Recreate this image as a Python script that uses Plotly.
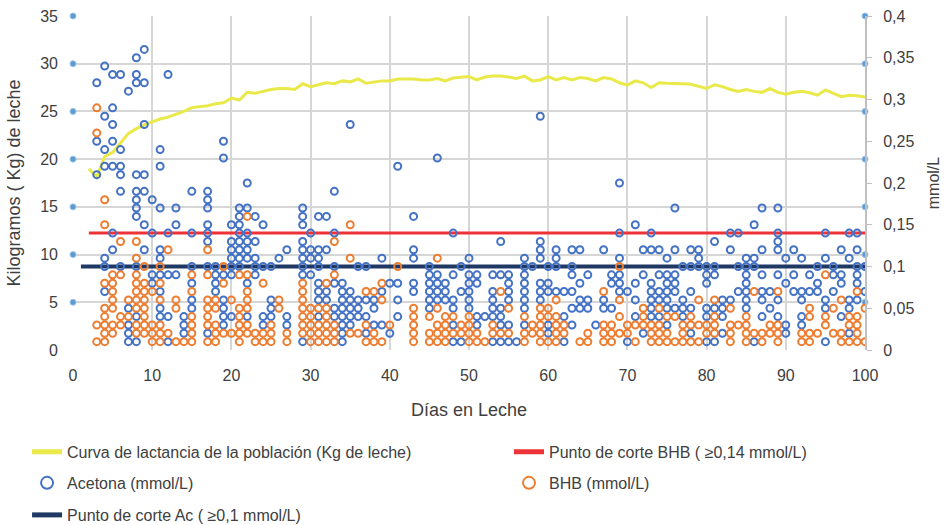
import plotly.graph_objects as go

# Curva de lactancia de la población: kg de leche por día en leche (días 2-100)
dias_curva = list(range(2, 101))
kg_leche = [
    19.0, 18.1, 20.3, 20.7, 21.7, 22.7, 23.2, 23.6, 23.9, 24.2,
    24.4, 24.7, 25.0, 25.4, 25.5, 25.6, 25.8, 25.9, 26.4, 26.2,
    27.0, 26.9, 27.1, 27.3, 27.4, 27.4, 27.3, 27.9, 27.6, 27.8,
    28.0, 27.9, 28.2, 28.1, 28.4, 27.95, 28.1, 28.2, 28.2, 28.4,
    28.4, 28.4, 28.3, 28.3, 28.45, 28.2, 28.5, 28.6, 28.65, 28.3,
    28.6, 28.7, 28.7, 28.6, 28.45, 28.7, 28.2, 28.3, 28.65, 28.3,
    28.55, 28.3, 28.55, 28.45, 28.2, 28.55, 28.4, 28.0, 27.75, 28.2,
    28.0, 27.5, 28.0, 27.95, 27.95, 27.9, 27.85, 27.6, 27.4, 27.8,
    27.6, 27.3, 27.1, 27.3, 27.1, 27.0, 27.4, 27.0, 26.8, 27.0,
    27.1, 26.95, 26.7, 27.25, 26.9, 26.55, 26.7, 26.65, 26.5,
]

# Acetona por día en leche, en centésimas de mmol/L
acetona_cmmol = {
    3: [21, 25, 32], 4: [7, 10, 11, 22, 24, 28, 34], 5: [12, 14, 22, 25, 27, 29, 33],
    6: [10, 19, 21, 22, 24, 33], 7: [1, 2, 3, 5, 31],
    8: [1, 4, 10, 16, 17, 18, 19, 21, 32, 33, 35], 9: [12, 15, 19, 21, 27, 32, 36],
    10: [8, 9, 14, 18], 11: [4, 5, 7, 9, 11, 12, 17, 22, 24], 12: [1, 4, 9, 14, 33],
    13: [9, 15, 17], 14: [2, 3, 4], 15: [5, 6, 8, 10, 14, 19],
    17: [2, 10, 13, 14, 15, 17, 18, 19], 18: [7, 8, 9, 10], 19: [3, 4, 5, 6, 9, 23, 25],
    20: [4, 9, 10, 11, 12, 13, 15], 21: [10, 11, 12, 13, 14, 15, 16, 17],
    22: [4, 8, 11, 12, 13, 14, 17, 20], 23: [9, 10, 11, 13, 16], 24: [3, 4, 10, 15],
    25: [4, 5, 6, 10], 26: [11], 27: [3, 4, 12], 29: [1, 9, 10, 11, 12, 13, 15, 16, 17],
    30: [9, 11, 12, 14], 31: [4, 6, 7, 8, 10, 11, 12, 16], 32: [6, 7, 12, 16],
    33: [4, 5, 8, 10, 14, 19], 34: [1, 2, 3, 4, 5, 6, 7, 8], 35: [3, 4, 5, 6, 7, 27],
    36: [4, 5, 6, 10], 37: [2, 4, 6, 10], 38: [3, 5, 6], 39: [3, 7, 11], 40: [2, 8],
    41: [4, 6, 8, 22], 43: [7, 8, 11, 12, 16], 45: [5, 6, 7, 8, 9, 10],
    46: [6, 7, 8, 9, 23], 47: [6, 7, 8], 48: [1, 3, 5, 6, 9, 14], 49: [1, 7, 10],
    50: [5, 6, 7, 8, 9, 11], 51: [3, 4, 8, 9], 52: [4], 53: [1, 4, 5, 6, 7, 9],
    54: [1, 3, 4, 5, 9, 13], 55: [1, 3, 6, 7, 8, 9], 56: [1],
    57: [3, 5, 6, 7, 8, 9, 10, 11], 58: [10], 59: [6, 7, 8, 11, 12, 13, 28],
    60: [2, 3, 7, 8, 10], 61: [7, 10, 11, 12], 62: [1, 4, 7], 63: [3, 5, 7, 9, 10, 12],
    64: [5, 6, 8, 12], 65: [5, 6, 9], 66: [3], 67: [5, 6, 12], 68: [5, 8, 9],
    69: [7, 8, 9, 11, 14, 20], 70: [1, 7], 71: [4, 6, 8, 15], 72: [2, 9, 12],
    73: [4, 5, 6, 7, 8, 12, 14], 74: [4, 6, 7, 9, 12], 75: [3, 5, 6, 7, 8, 9, 11],
    76: [5, 7, 8, 9, 12, 17], 77: [4, 5, 6, 10], 78: [2, 5, 7, 10, 12], 79: [10, 11, 12],
    80: [1, 4, 5, 8, 9, 10], 81: [1, 5, 9, 10, 13], 82: [2, 4, 5, 6], 83: [6, 12, 14],
    84: [7, 10, 14], 85: [5, 6, 7, 8, 9, 10, 11], 86: [1, 10, 11, 15],
    87: [4, 6, 7, 9, 12, 17], 88: [5, 7], 89: [4, 6, 9, 12, 13, 14, 17],
    90: [2, 3, 8, 11], 91: [7, 9, 12], 92: [3, 4, 6, 7, 11], 93: [7, 9], 94: [7, 8, 10],
    95: [1, 5, 6, 11, 14], 96: [7, 9, 10], 97: [4, 8, 9, 12], 98: [2, 5, 6, 11, 14],
    99: [6, 8, 9, 10, 12, 14], 100: [7, 10],
}

# BHB por día en leche, en centésimas de mmol/L
bhb_cmmol = {
    3: [1, 3, 26, 29], 4: [1, 2, 3, 4, 5, 8, 15, 18], 5: [2, 3, 5, 6, 7, 8, 9],
    6: [3, 4, 9, 13], 7: [4, 6], 8: [2, 3, 5, 6, 7, 8, 9, 11, 13],
    9: [2, 3, 4, 5, 6, 7, 8, 10], 10: [1, 2, 3, 7], 11: [1, 2, 3, 6, 8, 10], 12: [2, 12],
    13: [1, 5, 6], 14: [1], 15: [1, 2, 3, 4, 7, 9], 17: [1, 3, 4, 5, 6, 9, 12],
    18: [1, 2, 3, 5, 6], 19: [2, 8, 10], 20: [2, 6], 21: [1, 2, 3, 4, 5, 9],
    22: [2, 3, 5, 6, 7, 9, 16], 23: [1, 2], 24: [1, 2, 8], 25: [1, 2, 3], 26: [5, 6],
    27: [1, 2], 29: [2, 3, 4, 5, 6, 7, 8], 30: [1, 2, 3, 4, 5], 31: [1, 2, 3, 5],
    32: [1, 2, 3, 4, 5, 8], 33: [1, 2, 3, 9, 13], 35: [2, 11, 15], 36: [2], 37: [1, 3, 7],
    38: [1, 2, 7], 39: [1, 6, 8], 40: [3], 41: [10], 43: [1, 2, 3, 4, 5], 45: [1, 2, 4],
    46: [1, 2, 3, 5, 11], 47: [1, 2, 3, 4], 48: [2, 4], 49: [2, 3], 50: [1, 2, 3, 4],
    51: [1, 2], 52: [1], 53: [2, 3], 54: [2, 7], 55: [2, 5], 57: [1, 2, 4], 58: [2, 3],
    59: [1, 2, 3, 4, 5], 60: [1, 4, 5], 61: [1, 2, 3, 4, 6], 62: [2, 3], 64: [1],
    65: [1, 2], 67: [1, 2, 3, 7], 68: [1, 2, 3], 69: [2, 4, 6, 10], 70: [2, 3], 71: [1, 3],
    72: [3, 4, 5], 73: [1, 2, 3], 74: [1, 2, 3, 5], 75: [1, 2, 4], 76: [1, 4],
    77: [1, 2, 3], 78: [1, 3, 4], 79: [1, 3, 6], 80: [2, 3], 81: [2, 3, 4, 6],
    83: [1, 2, 3, 5], 84: [3], 85: [1, 2, 3, 4], 86: [2, 7], 87: [1, 2], 88: [2, 3],
    89: [1, 2, 3, 7], 92: [1, 2], 93: [1, 2, 4, 5], 94: [2], 95: [3, 4, 9], 96: [2, 5],
    97: [1, 2, 6], 98: [1, 3, 4], 99: [1, 2, 3, 4, 7], 100: [1, 5],
}

# Puntos de corte (mmol/L) y días que abarcan
corte_bhb = 0.14
corte_bhb_dias = [2, 100]
corte_ac = 0.1
corte_ac_dias = [1, 100]

# Marcas de referencia sobre los ejes (kg de leche)
marcas_kg = [5, 10, 15, 20, 25, 30, 35]

ticks_mmol = [0, 0.05, 0.1, 0.15, 0.2, 0.25, 0.3, 0.35, 0.4]
ticks_mmol_txt = ["0", "0,05", "0,1", "0,15", "0,2", "0,25", "0,3", "0,35", "0,4"]


def aplanar(tabla):
    xs, ys = [], []
    for dia, valores in tabla.items():
        for v in valores:
            xs.append(dia)
            ys.append(v / 100)
    return xs, ys


ac_x, ac_y = aplanar(acetona_cmmol)
bhb_x, bhb_y = aplanar(bhb_cmmol)

AZUL = "#4472C4"
NARANJA = "#ED7D31"
AMARILLO = "#E9E94A"
ROJO = "#EE3338"
MARINO = "#1F3864"
GRIS = "#D6D6D6"
TEXTO = "#404040"
FUENTE = "Liberation Sans, Arial, sans-serif"

fig = go.Figure()

fig.add_trace(go.Scatter(
    x=dias_curva, y=kg_leche, mode="lines", yaxis="y",
    line=dict(color=AMARILLO, width=3),
    name="Curva de lactancia de la población (Kg de leche)", legend="legend",
))
fig.add_trace(go.Scatter(
    x=corte_bhb_dias, y=[corte_bhb] * len(corte_bhb_dias), mode="lines", yaxis="y2",
    line=dict(color=ROJO, width=3),
    name="Punto de corte BHB ( ≥0,14 mmol/L)", legend="legend2",
))
fig.add_trace(go.Scatter(
    x=corte_ac_dias, y=[corte_ac] * len(corte_ac_dias), mode="lines", yaxis="y2",
    line=dict(color=MARINO, width=4),
    name="Punto de corte Ac ( ≥0,1 mmol/L)", legend="legend5",
))
fig.add_trace(go.Scatter(
    x=ac_x, y=ac_y, mode="markers", yaxis="y2",
    marker=dict(symbol="circle-open", size=7, color=AZUL, line=dict(width=2, color=AZUL)),
    name="Acetona (mmol/L)", legend="legend3",
))
fig.add_trace(go.Scatter(
    x=bhb_x, y=bhb_y, mode="markers", yaxis="y2",
    marker=dict(symbol="circle-open", size=7, color=NARANJA, line=dict(width=2, color=NARANJA)),
    name="BHB (mmol/L)", legend="legend4",
))
# Marcas sobre los ejes izquierdo y derecho
for x_eje in (0, 100):
    fig.add_trace(go.Scatter(
        x=[x_eje] * len(marcas_kg), y=marcas_kg, mode="markers", yaxis="y",
        marker=dict(size=6, color="#5B9BD5", line=dict(width=1, color="#9DC3E6")),
        showlegend=False, hoverinfo="skip", cliponaxis=False,
    ))

leyenda = dict(
    orientation="v", xanchor="left", yanchor="middle", bgcolor="rgba(0,0,0,0)",
    font=dict(family=FUENTE, size=16, color=TEXTO), itemsizing="constant",
)
col_izq = -0.058
col_der = 0.5505

fig.update_layout(
    width=952, height=525,
    margin=dict(l=73, r=87, t=16, b=175, autoexpand=False),
    paper_bgcolor="white", plot_bgcolor="white",
    font=dict(family=FUENTE, color=TEXTO, size=16),
    xaxis=dict(
        range=[0, 100], dtick=10, tick0=0, showgrid=True, gridcolor=GRIS, gridwidth=2,
        zeroline=False, showline=False, ticks="", ticklabelstandoff=14,
        tickfont=dict(size=16, color=TEXTO),
        title=dict(text="Días en Leche", font=dict(size=18, color=TEXTO), standoff=20),
    ),
    yaxis=dict(
        range=[0, 35], dtick=5, tick0=0, showgrid=True, gridcolor=GRIS, gridwidth=2,
        zeroline=False, showline=False, ticks="", ticklabelstandoff=14,
        tickfont=dict(size=16, color=TEXTO),
        title=dict(text="Kilogramos ( Kg) de leche", font=dict(size=18, color=TEXTO), standoff=14),
    ),
    yaxis2=dict(
        range=[0, 0.4], overlaying="y", side="right", showgrid=False, zeroline=False,
        showline=True, linecolor="#BFBFBF", linewidth=2, ticks="outside", ticklen=5,
        tickcolor="#BFBFBF", tickwidth=1, tickvals=ticks_mmol, ticktext=ticks_mmol_txt,
        ticklabelstandoff=8, tickfont=dict(size=16, color=TEXTO),
        title=dict(text="mmol/L", font=dict(size=16, color=TEXTO), standoff=14),
    ),
    legend=dict(leyenda, x=col_izq, y=-0.305),
    legend2=dict(leyenda, x=col_der, y=-0.305),
    legend3=dict(leyenda, x=col_izq, y=-0.398),
    legend4=dict(leyenda, x=col_der, y=-0.398),
    legend5=dict(leyenda, x=col_izq, y=-0.494),
    showlegend=True,
)

fig.write_html("out.html")
